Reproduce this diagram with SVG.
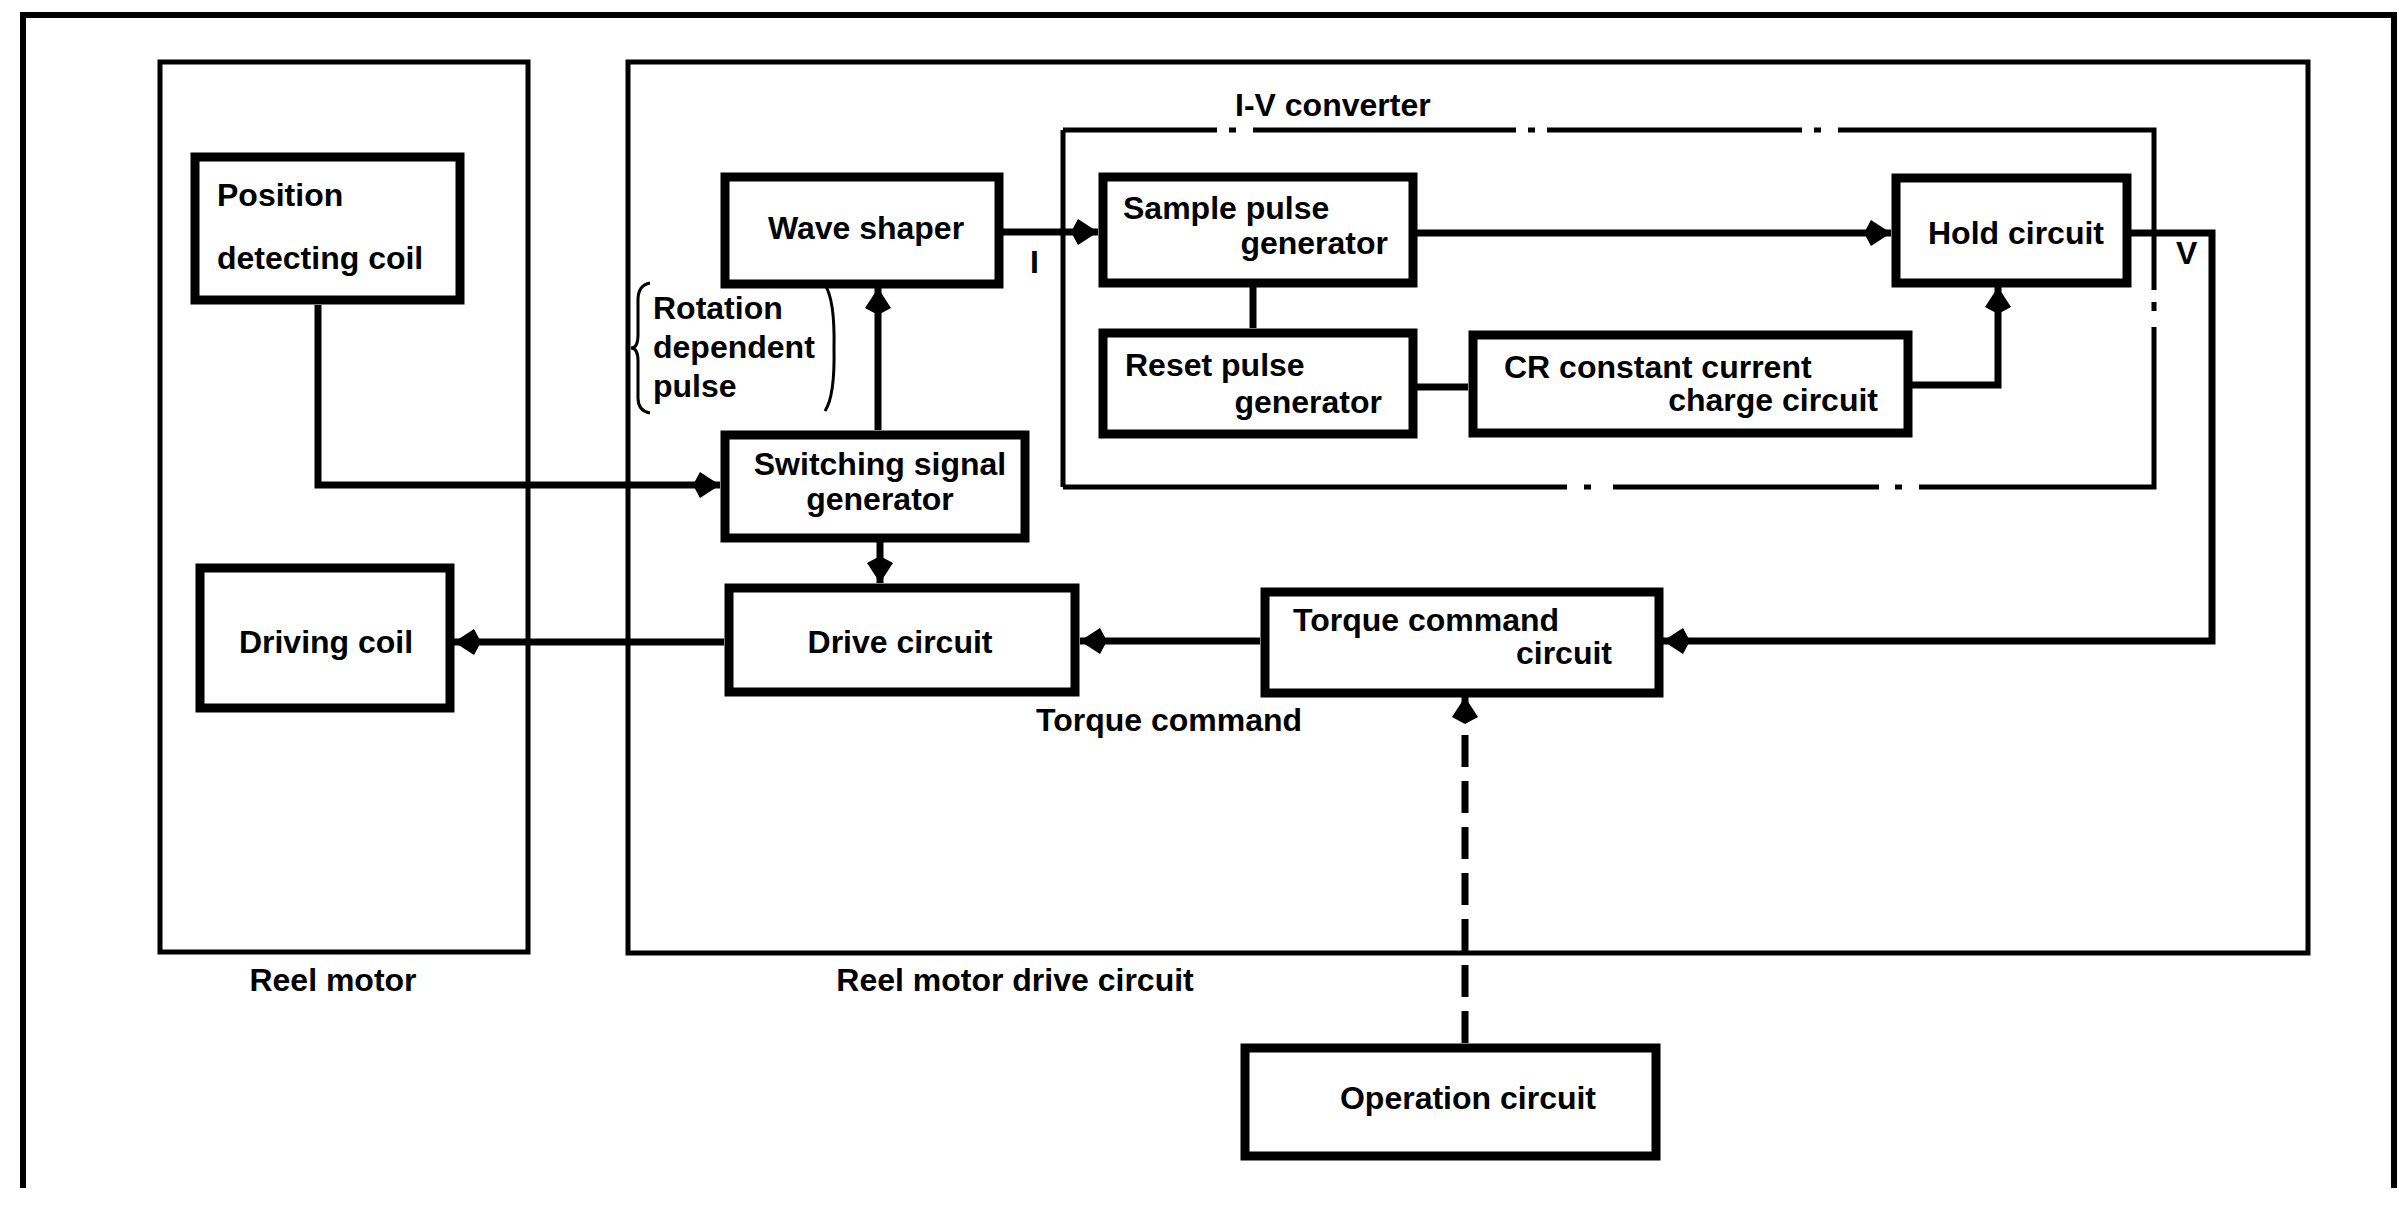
<svg xmlns="http://www.w3.org/2000/svg" width="2401" height="1207" viewBox="0 0 2401 1207">
<style>
.box{fill:#fff;stroke:#000;stroke-width:9}
.cont{fill:none;stroke:#000;stroke-width:5}
.ln{fill:none;stroke:#000;stroke-width:7}
.dl{fill:none;stroke:#000;stroke-width:5}
.t{font-family:"Liberation Sans",Arial,sans-serif;font-weight:bold;font-size:32px;fill:#000;dominant-baseline:central}
.m{text-anchor:middle}
.e{text-anchor:end}
</style>
<defs>
<marker id="arr" markerUnits="userSpaceOnUse" markerWidth="30" markerHeight="28" viewBox="0 0 30 28" refX="30" refY="14" orient="auto">
<path d="M3,14 L10,1 L30,14 L10,27 Z" fill="#000"/>
</marker>
</defs>
<rect width="2401" height="1207" fill="#fff"/>
<g id="frame">
<path d="M23,1188 V15 H2394 V1188" fill="none" stroke="#000" stroke-width="6"/>
</g>
<g id="reel-motor">
<rect class="cont" x="160" y="62" width="368" height="890"/>
<text class="t m" x="333" y="980">Reel motor</text>
</g>
<g id="reel-motor-drive-circuit">
<rect class="cont" x="628" y="62" width="1680" height="891"/>
<text class="t m" x="1015" y="980">Reel motor drive circuit</text>
</g>
<g id="iv-converter">
<line class="dl" x1="1063" y1="130" x2="1063" y2="487"/>
<path class="dl" d="M1063,130 H1217 M1229,130 H1236 M1253,130 H1516 M1528,130 H1535 M1547,130 H1802 M1814,130 H1821 M1838,130 H2154 V290 M2154,302 V311 M2154,327 V487 H1919 M1902,487 H1895 M1879,487 H1613 M1591,487 H1584 M1567,487 H1063"/>
<text class="t" x="1235" y="105">I-V converter</text>
</g>
<g id="position-detecting-coil">
<rect class="box" x="195" y="157" width="265" height="143"/>
<text class="t" x="217" y="195">Position</text>
<text class="t" x="217" y="258">detecting coil</text>
</g>
<g id="driving-coil">
<rect class="box" x="200" y="568" width="250" height="140"/>
<text class="t m" x="326" y="642">Driving coil</text>
</g>
<g id="wave-shaper">
<rect class="box" x="725" y="177" width="274" height="107"/>
<text class="t m" x="866" y="228">Wave shaper</text>
</g>
<g id="rotation-dependent-pulse">
<path d="M650,283 Q638,285 638,300 L638,335 Q638,348 631,348 Q638,348 638,361 L638,398 Q638,411 650,413" fill="none" stroke="#000" stroke-width="3"/>
<path d="M825,285 Q835,300 834,348 Q835,396 825,411" fill="none" stroke="#000" stroke-width="3"/>
<text class="t" x="653" y="308">Rotation</text>
<text class="t" x="653" y="347">dependent</text>
<text class="t" x="653" y="386">pulse</text>
</g>
<g id="switching-signal-generator">
<rect class="box" x="725" y="435" width="300" height="103"/>
<text class="t m" x="880" y="464">Switching signal</text>
<text class="t m" x="880" y="499">generator</text>
</g>
<g id="drive-circuit">
<rect class="box" x="729" y="588" width="346" height="104"/>
<text class="t m" x="900" y="642">Drive circuit</text>
</g>
<g id="sample-pulse-generator">
<rect class="box" x="1103" y="177" width="310" height="106"/>
<text class="t" x="1123" y="208">Sample pulse</text>
<text class="t e" x="1388" y="243">generator</text>
</g>
<g id="reset-pulse-generator">
<rect class="box" x="1103" y="333" width="310" height="101"/>
<text class="t" x="1125" y="365">Reset pulse</text>
<text class="t e" x="1382" y="402">generator</text>
</g>
<g id="cr-constant-current-charge-circuit">
<rect class="box" x="1473" y="335" width="435" height="98"/>
<text class="t" x="1504" y="367">CR constant current</text>
<text class="t e" x="1878" y="400">charge circuit</text>
</g>
<g id="hold-circuit">
<rect class="box" x="1896" y="178" width="231" height="105"/>
<text class="t m" x="2016" y="233">Hold circuit</text>
</g>
<g id="torque-command-circuit">
<rect class="box" x="1265" y="592" width="394" height="101"/>
<text class="t" x="1293" y="620">Torque command</text>
<text class="t e" x="1612" y="653">circuit</text>
</g>
<g id="operation-circuit">
<rect class="box" x="1245" y="1048" width="411" height="108"/>
<text class="t m" x="1468" y="1098">Operation circuit</text>
</g>
<g id="connectors">
<path class="ln" d="M318,305 V485 H720" marker-end="url(#arr)"/>
<path class="ln" d="M878,430 V288" marker-end="url(#arr)"/>
<path class="ln" d="M880,542 V583" marker-end="url(#arr)"/>
<path class="ln" d="M724,642 H454" marker-end="url(#arr)"/>
<path class="ln" d="M1003,232 H1098" marker-end="url(#arr)"/>
<path class="ln" d="M1417,233 H1891" marker-end="url(#arr)"/>
<path class="ln" d="M1253,287 V328"/>
<path class="ln" d="M1417,387 H1468"/>
<path class="ln" d="M1912,385 H1998 V287" marker-end="url(#arr)"/>
<path class="ln" d="M2131,233 H2212 V641 H1663" marker-end="url(#arr)"/>
<path class="ln" d="M1260,641 H1080" marker-end="url(#arr)"/>
<path class="ln" d="M1465,1043 V697" stroke-dasharray="32 14" marker-end="url(#arr)"/>
<text class="t" x="1030" y="262">I</text>
<text class="t" x="2176" y="253">V</text>
<text class="t" x="1036" y="720">Torque command</text>
</g>
</svg>
